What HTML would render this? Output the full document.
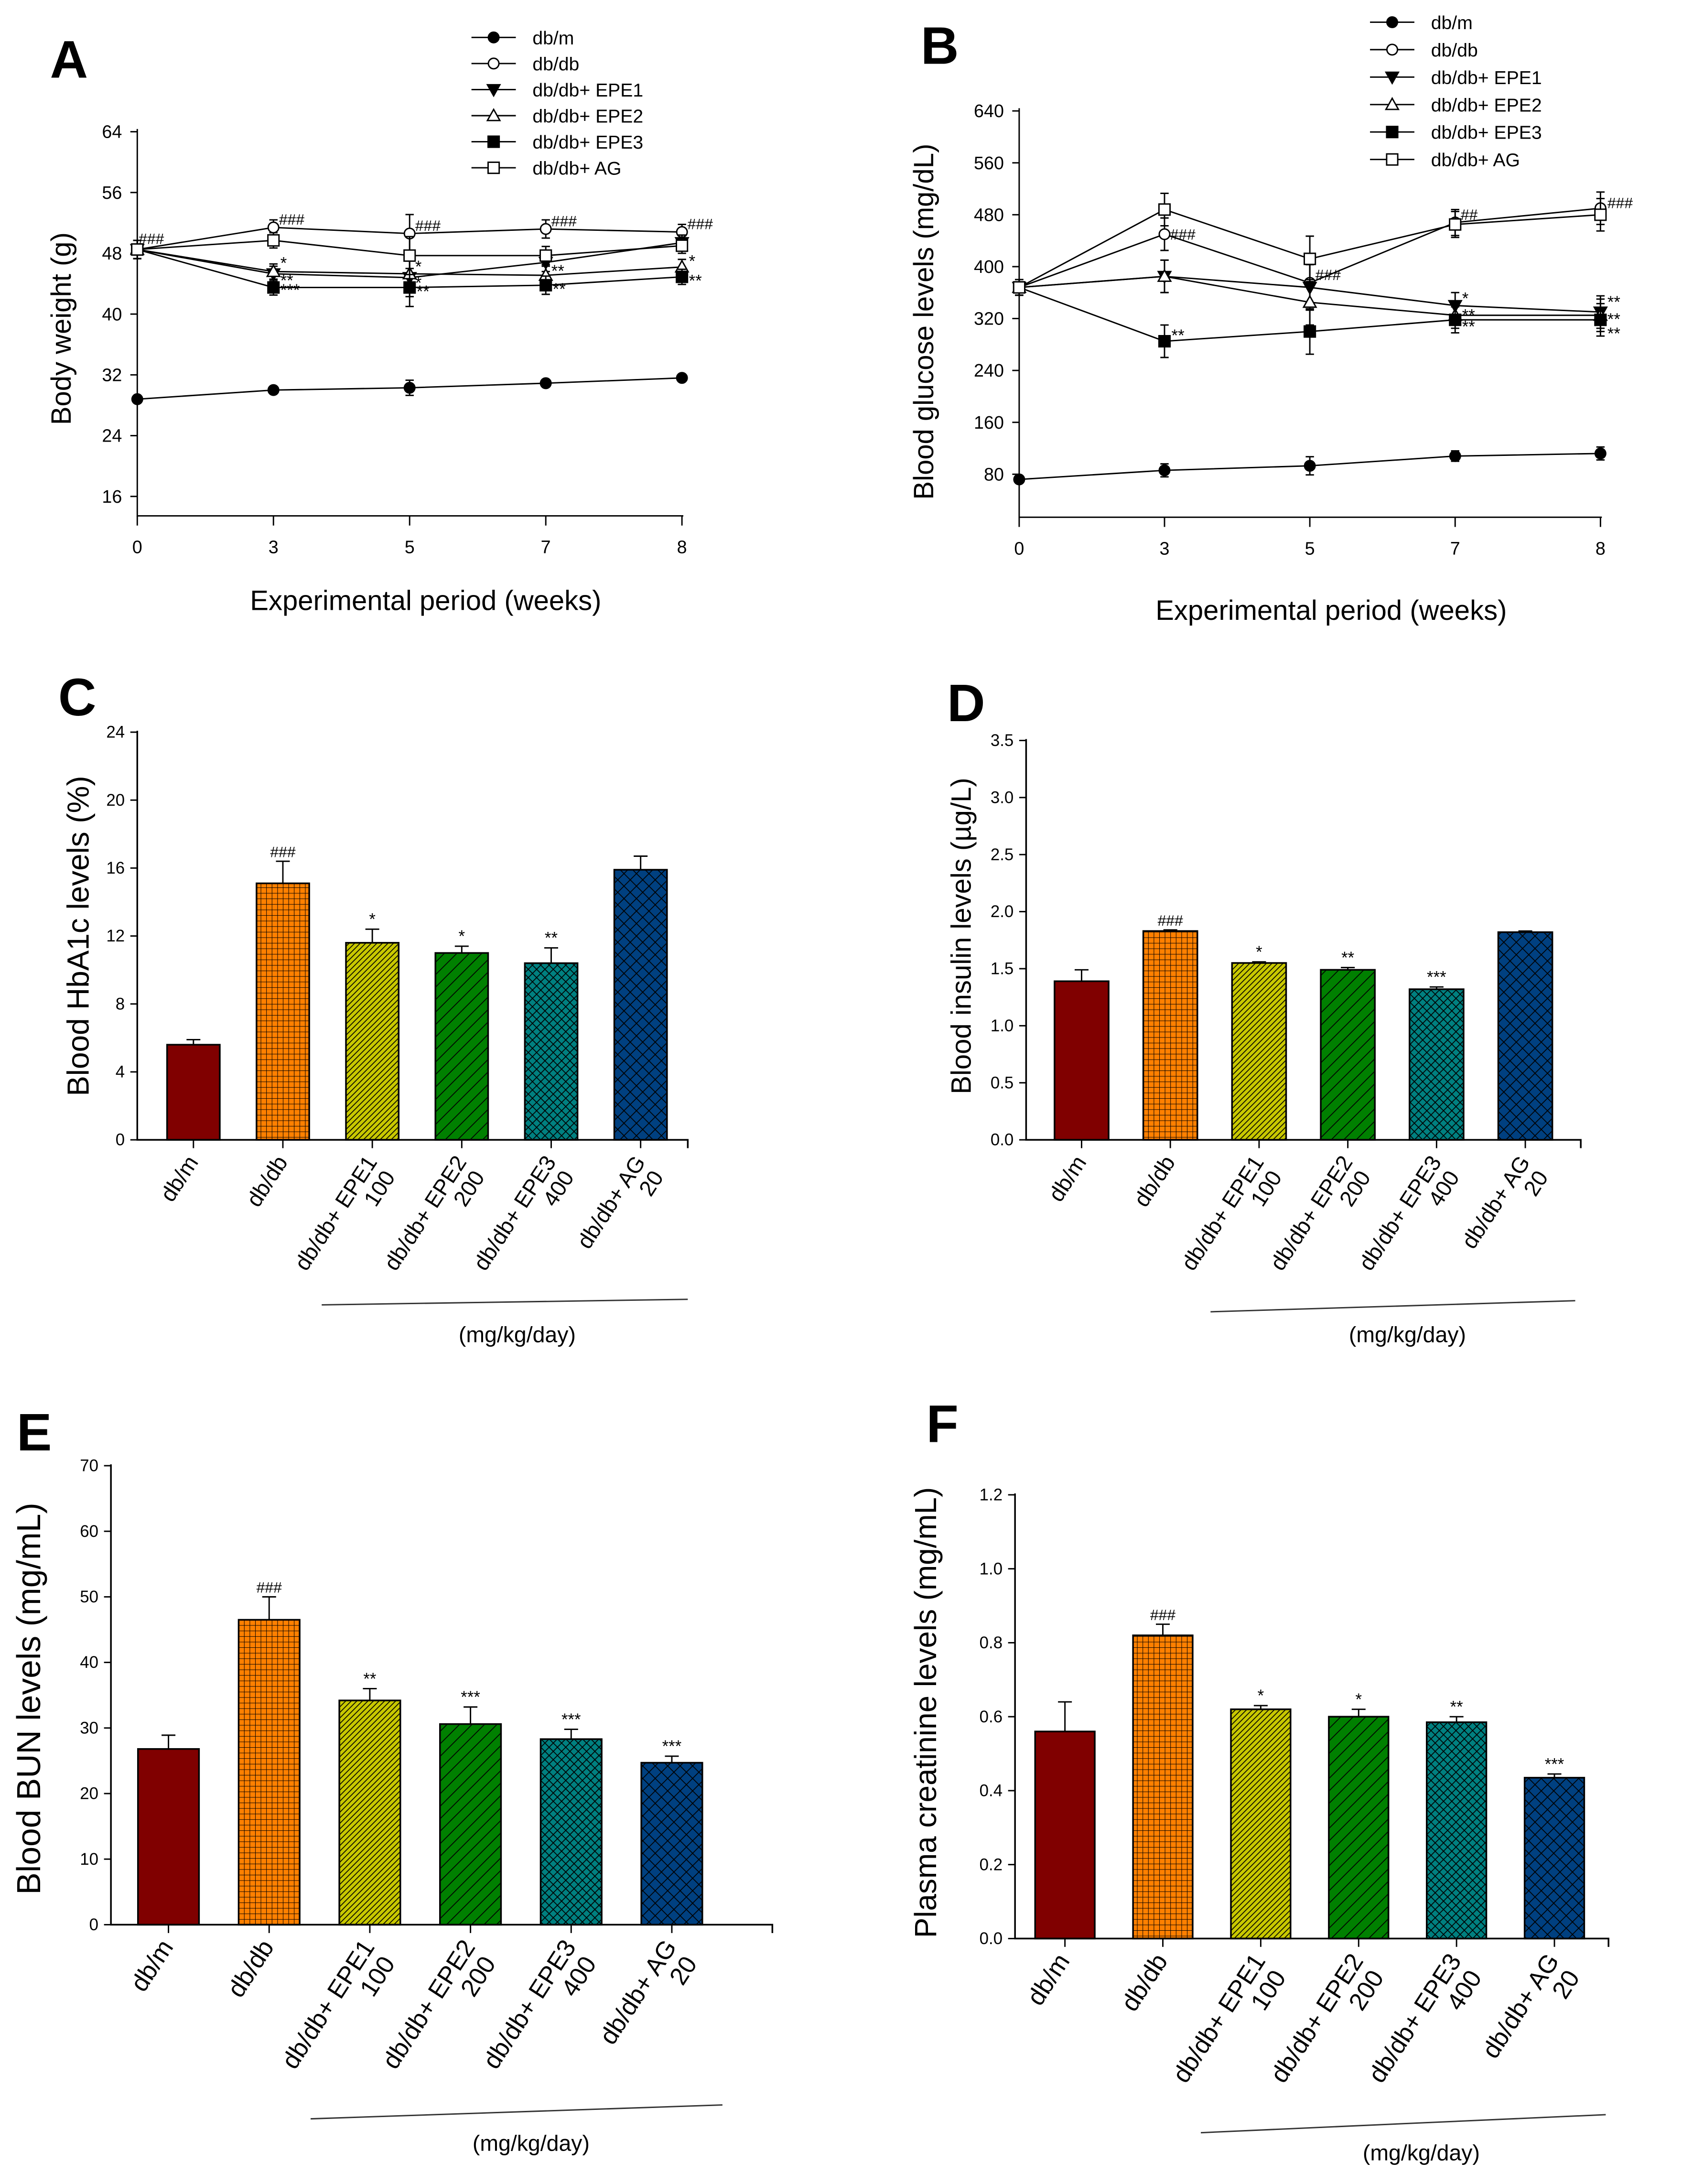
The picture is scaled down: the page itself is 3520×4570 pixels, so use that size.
<!DOCTYPE html>
<html><head><meta charset="utf-8"><style>
html,body{margin:0;padding:0;background:#fff;}
svg{display:block;font-family:"Liberation Sans",Arial,sans-serif;}
</style></head><body>
<svg id="fig" xmlns="http://www.w3.org/2000/svg" width="3520" height="4570" viewBox="0 0 1213 1575" preserveAspectRatio="none">
<defs>
<pattern id="p-grid" patternUnits="userSpaceOnUse" width="4" height="4"><rect width="4" height="4" fill="#ff8000"/><path d="M0 0H4M0 0V4" stroke="#000" stroke-width="0.7"/></pattern>
<pattern id="p-diag1" patternUnits="userSpaceOnUse" width="4" height="4"><rect width="4" height="4" fill="#c8c800"/><path d="M-1 5L5 -1M-1 1L1 -1M3 5L5 3" stroke="#000" stroke-width="0.6"/></pattern>
<pattern id="p-diag2" patternUnits="userSpaceOnUse" width="9" height="9"><rect width="9" height="9" fill="#008000"/><path d="M-1 10L10 -1M-1 1L1 -1M8 10L10 8" stroke="#000" stroke-width="0.6"/></pattern>
<pattern id="p-cross1" patternUnits="userSpaceOnUse" width="6" height="6"><rect width="6" height="6" fill="#008080"/><path d="M0 0L6 6M6 0L0 6" stroke="#000" stroke-width="0.6"/></pattern>
<pattern id="p-cross2" patternUnits="userSpaceOnUse" width="9" height="9"><rect width="9" height="9" fill="#004080"/><path d="M0 0L9 9M9 0L0 9" stroke="#000" stroke-width="0.6"/></pattern>
</defs>
</svg>
<script>
// ===== Data =====
const weeks = ["0","3","5","7","8"];
const seriesNames = ["db/m","db/db","db/db+ EPE1","db/db+ EPE2","db/db+ EPE3","db/db+ AG"];
const bwDbm  = [28.8, 30.0, 30.3, 30.9, 31.6];
const bwDbdb = [48.5, 51.4, 50.6, 51.2, 50.8];
const bwEpe1 = [48.5, 45.3, 44.8, 46.8, 49.4];
const bwEpe2 = [48.5, 45.6, 45.3, 45.1, 46.2];
const bwEpe3 = [48.5, 43.5, 43.5, 43.8, 44.9];
const bwAg   = [48.5, 49.7, 47.7, 47.7, 49.0];
const bwErr  = [1.2, 1.0, 2.5, 1.2, 1.0];
const bwTicks = [16,24,32,40,48,56,64];
const bgDbm  = [72, 86, 93, 108, 112];
const bgDbdb = [368, 450, 375, 468, 490];
const bgEpe1 = [368, 385, 368, 340, 330];
const bgEpe2 = [368, 385, 345, 325, 325];
const bgEpe3 = [368, 285, 300, 318, 318];
const bgAg   = [368, 488, 412, 465, 480];
const bgErr  = [12, 25, 35, 20, 25];
const bgTicks = [80,160,240,320,400,480,560,640];
const barCats = [["db/m",""],["db/db",""],["db/db+  EPE1","100"],["db/db+  EPE2","200"],["db/db+  EPE3","400"],["db/db+  AG","20"]];
const hbaVals = [5.6, 15.1, 11.6, 11.0, 10.4, 15.9];
const hbaErrs = [0.3, 1.3, 0.8, 0.4, 0.9, 0.8];
const hbaMarks = ["", "###", "*", "*", "**", ""];
const hbaTicks = [0,4,8,12,16,20,24];
const insVals = [1.39, 1.83, 1.55, 1.49, 1.32, 1.82];
const insErrs = [0.10, 0.01, 0.01, 0.02, 0.02, 0.01];
const insMarks = ["", "###", "*", "**", "***", ""];
const insTicks = ["0.0","0.5","1.0","1.5","2.0","2.5","3.0","3.5"];
const bunVals = [26.8, 46.5, 34.2, 30.6, 28.3, 24.7];
const bunErrs = [2.1, 3.5, 1.8, 2.6, 1.5, 1.0];
const bunMarks = ["", "###", "**", "***", "***", "***"];
const bunTicks = [0,10,20,30,40,50,60,70];
const creVals = [0.56, 0.82, 0.62, 0.60, 0.585, 0.435];
const creErrs = [0.08, 0.03, 0.01, 0.02, 0.015, 0.01];
const creMarks = ["", "###", "*", "*", "**", "***"];
const creTicks = ["0.0","0.2","0.4","0.6","0.8","1.0","1.2"];
const barFills = ["#800000","url(#p-grid)","url(#p-diag1)","url(#p-diag2)","url(#p-cross1)","url(#p-cross2)"];

const NS = "http://www.w3.org/2000/svg";
const svg = document.getElementById('fig');
function mk(tag, attrs, parent, txt){
  const e = document.createElementNS(NS, tag);
  for (const k in attrs) e.setAttribute(k, attrs[k]);
  if (txt !== undefined) e.textContent = txt;
  (parent||svg).appendChild(e);
  return e;
}
function linScale(d0,d1,r0,r1){ return v => r0 + (v-d0)*(r1-r0)/(d1-d0); }

// ===== Line panels =====
function markerShape(g, kind, x, y){
  let m;
  const filled = (kind===0||kind===2||kind===4);
  const fill = filled ? "#000" : "#fff";
  if (kind===0||kind===1) m = mk('circle',{cx:x,cy:y,r:3.8,fill:fill,stroke:"#000","stroke-width":1},g);
  else if (kind===2) m = mk('path',{d:`M${x-4.5} ${y-3.5}L${x+4.5} ${y-3.5}L${x} ${y+4.5}Z`,fill:fill,stroke:"#000","stroke-width":1},g);
  else if (kind===3) m = mk('path',{d:`M${x-4.5} ${y+3.5}L${x+4.5} ${y+3.5}L${x} ${y-4.5}Z`,fill:fill,stroke:"#000","stroke-width":1},g);
  else m = mk('rect',{x:x-4,y:y-4,width:8,height:8,fill:fill,stroke:"#000","stroke-width":1},g);
  return m;
}
function linePanel(cfg){
  const g = mk('g',{});
  
  
  const ys = linScale(cfg.ymin, cfg.ymax, cfg.y0, cfg.y1);
  const xs = i => cfg.x0 + i*cfg.dx;
  const ax = mk('path',{d:`M${cfg.ax} ${cfg.y1-2}V${cfg.axBottom}H${xs(weeks.length-1)+1}`,fill:"none",stroke:"#000","stroke-width":1},g);
  
  
  cfg.ticks.forEach(t=>{
    const y = ys(t);
    mk('line',{x1:cfg.ax-5,x2:cfg.ax,y1:y,y2:y,stroke:"#000"},g);
    const tl = mk('text',{x:cfg.ax-11,y:y+4.5,"text-anchor":"end","font-size":13},g,String(t));
    
    
  });
  weeks.forEach((w,i)=>{
    mk('line',{x1:xs(i),x2:xs(i),y1:cfg.axBottom,y2:cfg.axBottom+7,stroke:"#000"},g);
    const tl = mk('text',{x:xs(i),y:cfg.axBottom+27,"text-anchor":"middle","font-size":13},g,w);
    
    
  });
  cfg.series.forEach((s,k)=>{
    const sg = mk('g',{},g);
    
    
    const d = s.map((v,i)=>(i?'L':'M')+xs(i)+' '+ys(v)).join('');
    mk('path',{d:d,fill:"none",stroke:"#000","stroke-width":1},sg);
    s.forEach((v,i)=>{
      const e = cfg.err[i]*(k===0?0.4:1);
      const yt = ys(v+e), yb = ys(v-e);
      mk('path',{d:`M${xs(i)} ${yt}V${yb}M${xs(i)-3} ${yt}H${xs(i)+3}M${xs(i)-3} ${yb}H${xs(i)+3}`,stroke:"#000","stroke-width":1},sg);
      const m = markerShape(sg,k,xs(i),ys(v));
      
      
    });
  });
  cfg.annots.forEach(a=>{
    const t = mk('text',{x:xs(a[0])+a[3],y:ys(a[1])+a[4],"font-size":a[2]==="###"||a[2]==="##"?11:12,fill:"#000"},g,a[2]);
    
    
  });
  // legend
  const lg = mk('g',{},g);
  
  
  seriesNames.forEach((n,k)=>{
    const y = cfg.legY + k*cfg.legDy;
    const e = mk('g',{},lg);
    
    
    mk('line',{x1:cfg.legX,x2:cfg.legX+32,y1:y,y2:y,stroke:"#000"},e);
    markerShape(e,k,cfg.legX+16,y);
    mk('text',{x:cfg.legX+44,y:y+5,"font-size":13.5},e,n);
  });
  const yt = mk('text',{transform:`translate(${cfg.ytX},${cfg.ytY}) rotate(-90)`,"text-anchor":"middle","font-size":20},g,cfg.ytitle);
  
  
  const xt = mk('text',{x:cfg.xtX,y:cfg.xtY,"text-anchor":"middle","font-size":20},g,"Experimental period (weeks)");
  
  
  const pl = mk('text',{x:cfg.lblX,y:cfg.lblY,"font-size":38,"font-weight":"bold"},g,cfg.letter);
  
  
}
linePanel({name:"panel-a-body-weight",letter:"A",lblX:36,lblY:56,ymin:16,ymax:64,y0:358,y1:95,ax:99,axBottom:372,x0:99,dx:98.2,
  ticks:bwTicks,series:[bwDbm,bwDbdb,bwEpe1,bwEpe2,bwEpe3,bwAg],err:bwErr,
  annots:[[0,48.5,"###",1,-4],[1,51.4,"###",4,-2],[2,50.6,"###",4,-2],[3,51.2,"###",4,-2],[4,50.8,"###",4,-2],
          [1,45.6,"*",5,-2],[1,45.3,"**",5,9],[1,43.5,"***",5,6],[2,45.3,"*",4,-1],[2,44.8,"*",4,8],[2,43.5,"**",5,7],
          [3,45.1,"**",4,1],[3,43.8,"**",5,7],[4,46.2,"*",5,0],[4,44.9,"**",5,7]],
  legX:340,legY:27,legDy:18.8,ytitle:"Body weight (g)",ytX:51,ytY:237,xtX:307,xtY:440});
linePanel({name:"panel-b-blood-glucose",letter:"B",lblX:664,lblY:46,ymin:80,ymax:640,y0:342,y1:80,ax:735,axBottom:373,x0:735,dx:104.8,
  ticks:bgTicks,series:[bgDbm,bgDbdb,bgEpe1,bgEpe2,bgEpe3,bgAg],err:bgErr,
  annots:[[1,450,"###",4,4],[2,375,"###",4,-2],[3,468,"##",4,-2],[4,490,"###",5,0],[1,285,"**",5,0],
          [3,340,"*",5,-1],[3,325,"**",5,4],[3,318,"**",5,9],[4,330,"**",5,-3],[4,325,"**",5,7],[4,318,"**",5,14]],
  legX:988,legY:16,legDy:19.8,ytitle:"Blood glucose levels (mg/dL)",ytX:673,ytY:232,xtX:960,xtY:447});

// ===== Bar panels =====
function barPanel(cfg){
  const g = mk('g',{});
  
  
  const ys = linScale(0, cfg.ymax, cfg.y0, cfg.y1);
  const xs = i => cfg.x0 + i*cfg.dx;
  cfg.vals.forEach((v,i)=>{
    const top = ys(v);
    const b = mk('rect',{x:xs(i)-cfg.bw/2,y:top,width:cfg.bw,height:cfg.y0-top,fill:barFills[i],stroke:"#000","stroke-width":1.2},g);
    
    
    const et = ys(v+cfg.errs[i]);
    const eb = mk('path',{d:`M${xs(i)} ${top}V${et}M${xs(i)-5} ${et}H${xs(i)+5}`,stroke:"#000","stroke-width":1},g);
    
    
    if (cfg.marks[i]) {
      const m = mk('text',{x:xs(i),y:et-3,"text-anchor":"middle","font-size":cfg.marks[i]==="###"?11:12},g,cfg.marks[i]);
      
      
    }
    mk('line',{x1:xs(i),x2:xs(i),y1:cfg.y0,y2:cfg.y0+6,stroke:"#000"},g);
    const lab = mk('text',{transform:`translate(${xs(i)+4},${cfg.y0+16}) rotate(-57)`,"text-anchor":"end","font-size":cfg.lfs},g);
    
    
    mk('tspan',{x:0,dy:"0"},lab,barCats[i][0]);
    if (barCats[i][1]) mk('tspan',{x:-2,dy:"1.05em"},lab,barCats[i][1]);
  });
  const ax = mk('path',{d:`M${cfg.ax} ${cfg.y1-1}V${cfg.y0}H${cfg.axEnd}V${cfg.y0+6}`,fill:"none",stroke:"#000","stroke-width":1.2},g);
  
  
  cfg.ticks.forEach(t=>{
    const y = ys(parseFloat(t));
    mk('line',{x1:cfg.ax-5,x2:cfg.ax,y1:y,y2:y,stroke:"#000"},g);
    const tl = mk('text',{x:cfg.ax-9,y:y+4,"text-anchor":"end","font-size":12},g,String(t));
    
    
  });
  const br = mk('line',{x1:cfg.brX0,y1:cfg.brY0,x2:cfg.brX1,y2:cfg.brY1,stroke:"#333","stroke-width":1},g);
  
  
  const un = mk('text',{x:cfg.unX,y:cfg.unY,"text-anchor":"middle","font-size":16},g,"(mg/kg/day)");
  
  
  const yt = mk('text',{transform:`translate(${cfg.ytX},${cfg.ytY}) rotate(-90)`,"text-anchor":"middle","font-size":cfg.ytfs},g,cfg.ytitle);
  
  
  const pl = mk('text',{x:cfg.lblX,y:cfg.lblY,"font-size":38,"font-weight":"bold"},g,cfg.letter);
  
  
}
barPanel({name:"panel-c-hba1c",letter:"C",lblX:42,lblY:516,ymax:24,y0:822,y1:528,ax:99,axEnd:496,x0:139.5,dx:64.5,bw:38,
  vals:hbaVals,errs:hbaErrs,marks:hbaMarks,ticks:hbaTicks,lfs:16,
  brX0:232,brY0:941,brX1:496,brY1:937,unX:373,unY:968,ytitle:"Blood HbA1c levels (%)",ytX:64,ytY:675,ytfs:22});
barPanel({name:"panel-d-insulin",letter:"D",lblX:683,lblY:520,ymax:3.5,y0:822,y1:534,ax:740,axEnd:1140,x0:780,dx:64,bw:39,
  vals:insVals,errs:insErrs,marks:insMarks,ticks:insTicks,lfs:16,
  brX0:873,brY0:946,brX1:1136,brY1:938,unX:1015,unY:968,ytitle:"Blood insulin levels (\u00b5g/L)",ytX:700,ytY:675,ytfs:20});
barPanel({name:"panel-e-bun",letter:"E",lblX:12,lblY:1046,ymax:70,y0:1388,y1:1057,ax:80,axEnd:557,x0:121.5,dx:72.6,bw:44,
  vals:bunVals,errs:bunErrs,marks:bunMarks,ticks:bunTicks,lfs:18,
  brX0:224,brY0:1528,brX1:521,brY1:1518,unX:383,unY:1551,ytitle:"Blood BUN levels (mg/mL)",ytX:29,ytY:1225,ytfs:24});
barPanel({name:"panel-f-creatinine",letter:"F",lblX:668,lblY:1040,ymax:1.2,y0:1398,y1:1078,ax:732,axEnd:1160,x0:768,dx:70.6,bw:43,
  vals:creVals,errs:creErrs,marks:creMarks,ticks:creTicks,lfs:18,
  brX0:866,brY0:1538,brX1:1158,brY1:1525,unX:1025,unY:1558,ytitle:"Plasma creatinine levels (mg/mL)",ytX:675,ytY:1235,ytfs:22});
</script>
</body></html>
